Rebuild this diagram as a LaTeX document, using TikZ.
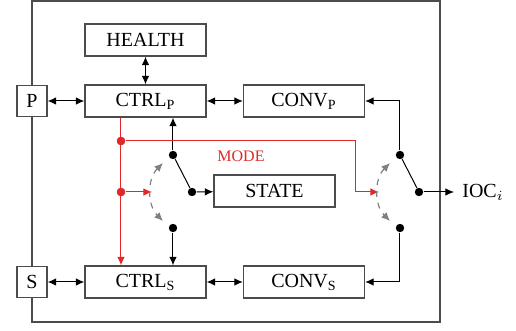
\documentclass[tikz,border=0pt]{standalone}
\usepackage{fontspec}
\setmainfont{Liberation Serif}
\usetikzlibrary{arrows.meta,calc}
\definecolor{modered}{RGB}{225,40,40}
\begin{document}
\begin{tikzpicture}[x=0.5pt,y=-0.5pt,
  box/.style={draw=black!70,line width=0.6pt,minimum width=60.5pt,minimum height=16pt,inner sep=0pt,font=\fontsize{10}{12}\selectfont},
  port/.style={box,minimum width=15pt,minimum height=15.5pt,fill=white},
  tip/.style={-{Latex[length=4.3pt,width=3.8pt]}},
  dbl/.style={{Latex[length=4.3pt,width=3.8pt]}-{Latex[length=4.3pt,width=3.8pt]}},
  conn/.style={line width=0.5pt},
  dot/.style={circle,fill=black,inner sep=0pt,minimum size=4.2pt},
  rdot/.style={dot,fill=modered},
  swarc/.style={gray,dashed,line width=0.6pt,{Latex[length=4.3pt,width=3.8pt]}-{Latex[length=4.3pt,width=3.8pt]}},
]
\useasboundingbox (0,0) rectangle (516,331);
\draw[draw=black!70,line width=0.6pt] (32,1) rectangle (440,322);

\node[box] (health) at (145.5,40) {HEALTH};
\node[box] (ctrlp) at (145.5,101) {CTRL\textsubscript{P}};
\node[port] (p) at (32,101) {P};
\node[box] (convp) at (304,101) {CONV\textsubscript{P}};
\node[box] (state) at (274.5,191) {STATE};
\node[box] (ctrls) at (145.5,282) {CTRL\textsubscript{S}};
\node[port] (s) at (32,282) {S};
\node[box] (convs) at (304,282) {CONV\textsubscript{S}};
\node[anchor=west,inner ysep=0pt,inner xsep=4pt,font=\fontsize{10}{12}\selectfont] (ioc) at (454,192) {IOC$_i$};
\node[text=modered,inner sep=0pt,font=\fontsize{8}{9}\selectfont] (mode) at (241,156) {MODE};

\node[dot] (a1) at (173,155) {};
\node[dot] (a) at (192,192) {};
\node[dot] (a2) at (173,228) {};
\node[dot] (b1) at (400,155) {};
\node[dot] (b) at (419,192) {};
\node[dot] (b2) at (400,228) {};
\node[rdot] (r1) at (121,141) {};
\node[rdot] (r2) at (121,192) {};
\coordinate (la) at (152,192);
\coordinate (ra) at (379,192);
\coordinate (rturn) at (356,192);

\draw[conn,dbl] (p) -- (ctrlp);
\draw[conn,dbl] (ctrlp) -- (convp);
\draw[conn,dbl] (health) -- (ctrlp);
\draw[conn,dbl] (s) -- (ctrls);
\draw[conn,dbl] (ctrls) -- (convs);

\draw[conn,tip] (a1) -- (a1 |- ctrlp.south);
\draw[conn] (a1) -- (a);
\draw[conn,tip] (a) -- (state);
\draw[conn,tip] (a2) -- (a2 |- ctrls.north);
\draw[conn,tip] (b1) |- (convp.east);
\draw[conn] (b1) -- (b);
\draw[conn,tip] (b) -- (ioc);
\draw[conn,tip] (b2) |- (convs.east);

\draw[conn,modered,tip] (r1 |- ctrlp.south) -- (r1 |- ctrls.north);
\draw[conn,modered,tip] (r1) -| (rturn) -- (ra);
\draw[conn,modered,tip] (r2) -- (la);
\node[rdot] at (r1) {};
\node[rdot] at (r2) {};

\draw[swarc] ($(a)+(135:20.5pt)$) arc[start angle=135,end angle=225,radius=20.5pt];
\draw[swarc] ($(b)+(135:20.5pt)$) arc[start angle=135,end angle=225,radius=20.5pt];
\end{tikzpicture}
\end{document}
